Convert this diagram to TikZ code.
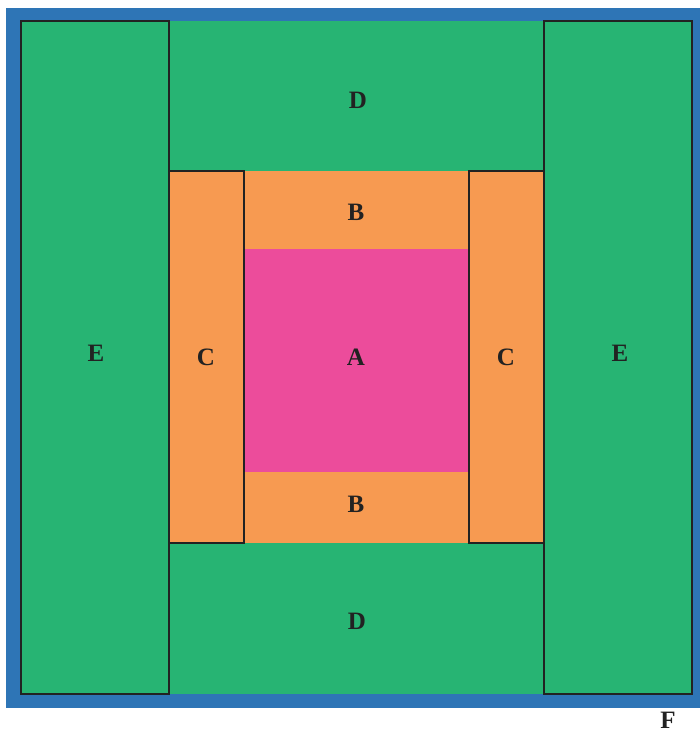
\documentclass[tikz,border=0pt]{standalone}
\usepackage{xcolor}
\usepackage{fontspec}
\setmainfont{Liberation Serif}
\usetikzlibrary{positioning,calc}

\definecolor{frameblue}{HTML}{2E75B6}
\definecolor{zonegreen}{HTML}{27B473}
\definecolor{zoneorange}{HTML}{F79A51}
\definecolor{zonepink}{HTML}{EC4C9B}
\definecolor{inkgray}{HTML}{222222}

\begin{document}
\begin{tikzpicture}[x=1pt, y=-1pt]
  % styles
  \tikzstyle{outline} = [draw=inkgray, line width=1.5pt]
  \tikzstyle{zonelabel} = [inner sep=0pt, text=inkgray, font=\fontsize{25}{30}\selectfont\bfseries]

  \useasboundingbox (0,0) rectangle (700,734);

  % outer frame and green field (D)
  \fill[frameblue] (6,8) rectangle (700,708);
  \fill[zonegreen] (21,21) rectangle (692,694);

  % side blocks E
  \draw[outline, fill=zonegreen] (21,21) rectangle (169,694);
  \draw[outline, fill=zonegreen] (544,21) rectangle (692,694);

  % orange ring: B strips and C blocks
  \fill[zoneorange] (169,171) rectangle (544,543);
  \draw[outline, fill=zoneorange] (169,171) rectangle (244,543);
  \draw[outline, fill=zoneorange] (469,171) rectangle (544,543);

  % core A
  \fill[zonepink] (245,249) rectangle (468,472);

  % labels
  \node[zonelabel] (dtop) at (358,100) {D};
  \node[zonelabel] (btop) at (356,212) {B};
  \node[zonelabel] (acore) at (356,357) {A};
  \node[zonelabel] (cleft) at (206,357) {C};
  \node[zonelabel] (cright) at (506,357) {C};
  \node[zonelabel] (eleft) at (96,353) {E};
  \node[zonelabel] (eright) at (620,353) {E};
  \node[zonelabel] (bbot) at (356,504) {B};
  \node[zonelabel] (dbot) at (357,621) {D};
  \node[zonelabel] (fmark) at (668,720) {F};

\end{tikzpicture}
\end{document}
